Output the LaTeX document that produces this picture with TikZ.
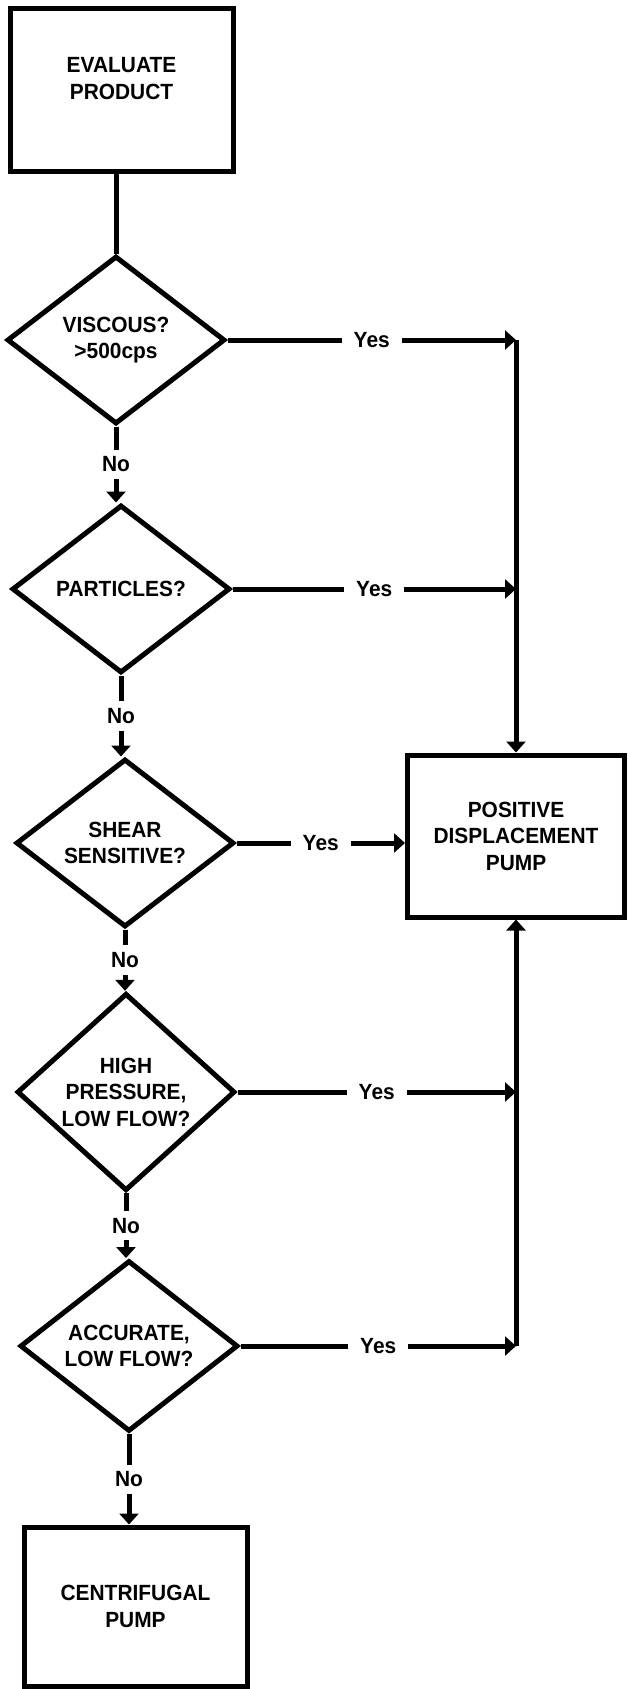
\documentclass[tikz,border=0pt]{standalone}
\usepackage{fontspec}
\setmainfont{Liberation Sans}[FakeStretch=0.95]
\usetikzlibrary{shapes.geometric, arrows.meta, positioning}

\begin{document}
\begin{tikzpicture}[x=1pt, y=-1pt,
        every node/.style={font=\fontsize{22}{26.5}\selectfont\bfseries},
        box/.style={draw, rectangle, line width=5pt, align=center, minimum width=223pt, minimum height=162pt, inner sep=0pt},
        decision/.style={draw, diamond, line width=5pt, align=center, minimum width=218pt, minimum height=168pt, inner sep=0pt},
        lbl/.style={fill=white, inner xsep=12pt, inner ysep=7pt},
        link/.style={line width=5pt},
        arrow/.style={line width=5pt, -{Triangle[length=11pt, width=19pt]}}
    ]
    \useasboundingbox (0,0) rectangle (627,1689);

    % Start
    \node[box, minimum height=163pt, label={[align=center, yshift=11pt]center:EVALUATE\\PRODUCT}] (evaluate) at (121.5, 89.5) {};

    % Questions
    \node[decision] (viscous) at (116, 340) {VISCOUS?\\>500cps};
    \node[decision] (particles) at (121, 589) {PARTICLES?};
    \node[decision] (shear) at (125, 843) {SHEAR\\SENSITIVE?};
    \node[decision] (pressure) at (126, 1092) {HIGH\\PRESSURE,\\LOW FLOW?};
    \node[decision] (accurate) at (129, 1346) {ACCURATE,\\LOW FLOW?};

    % Pumps
    \node[box, minimum width=217pt] (pd) at (516, 836) {POSITIVE\\DISPLACEMENT\\PUMP};
    \node[box, minimum height=159pt] (centrifugal) at (135.5, 1606.5) {CENTRIFUGAL\\PUMP};

    % No branches
    \draw[link] (viscous.north |- evaluate.south) -- (viscous.north);
    \draw[arrow] (viscous.south) -- node[lbl] (no1) {No} (viscous.south |- particles.north);
    \draw[arrow] (particles.south) -- node[lbl] (no2) {No} (particles.south |- shear.north);
    \draw[arrow] (shear.south) -- node[lbl] (no3) {No} (shear.south |- pressure.north);
    \draw[arrow] (pressure.south) -- node[lbl] (no4) {No} (pressure.south |- accurate.north);
    \draw[arrow] (accurate.south) -- node[lbl] (no5) {No} (accurate.south |- centrifugal.north);

    % Yes branches
    \draw[arrow] (viscous.east) -- node[lbl] (yes1) {Yes} (viscous.east -| pd.north);
    \draw[arrow] (particles.east) -- node[lbl] (yes2) {Yes} (particles.east -| pd.north);
    \draw[arrow] (shear.east) -- node[lbl] (yes3) {Yes} (shear.east -| pd.west);
    \draw[arrow] (pressure.east) -- node[lbl] (yes4) {Yes} (pressure.east -| pd.south);
    \draw[arrow] (accurate.east) -- node[lbl] (yes5) {Yes} (accurate.east -| pd.south);
    \draw[arrow] (viscous.east -| pd.north) -- (pd.north);
    \draw[arrow] (accurate.east -| pd.south) -- (pd.south);

\end{tikzpicture}
\end{document}
